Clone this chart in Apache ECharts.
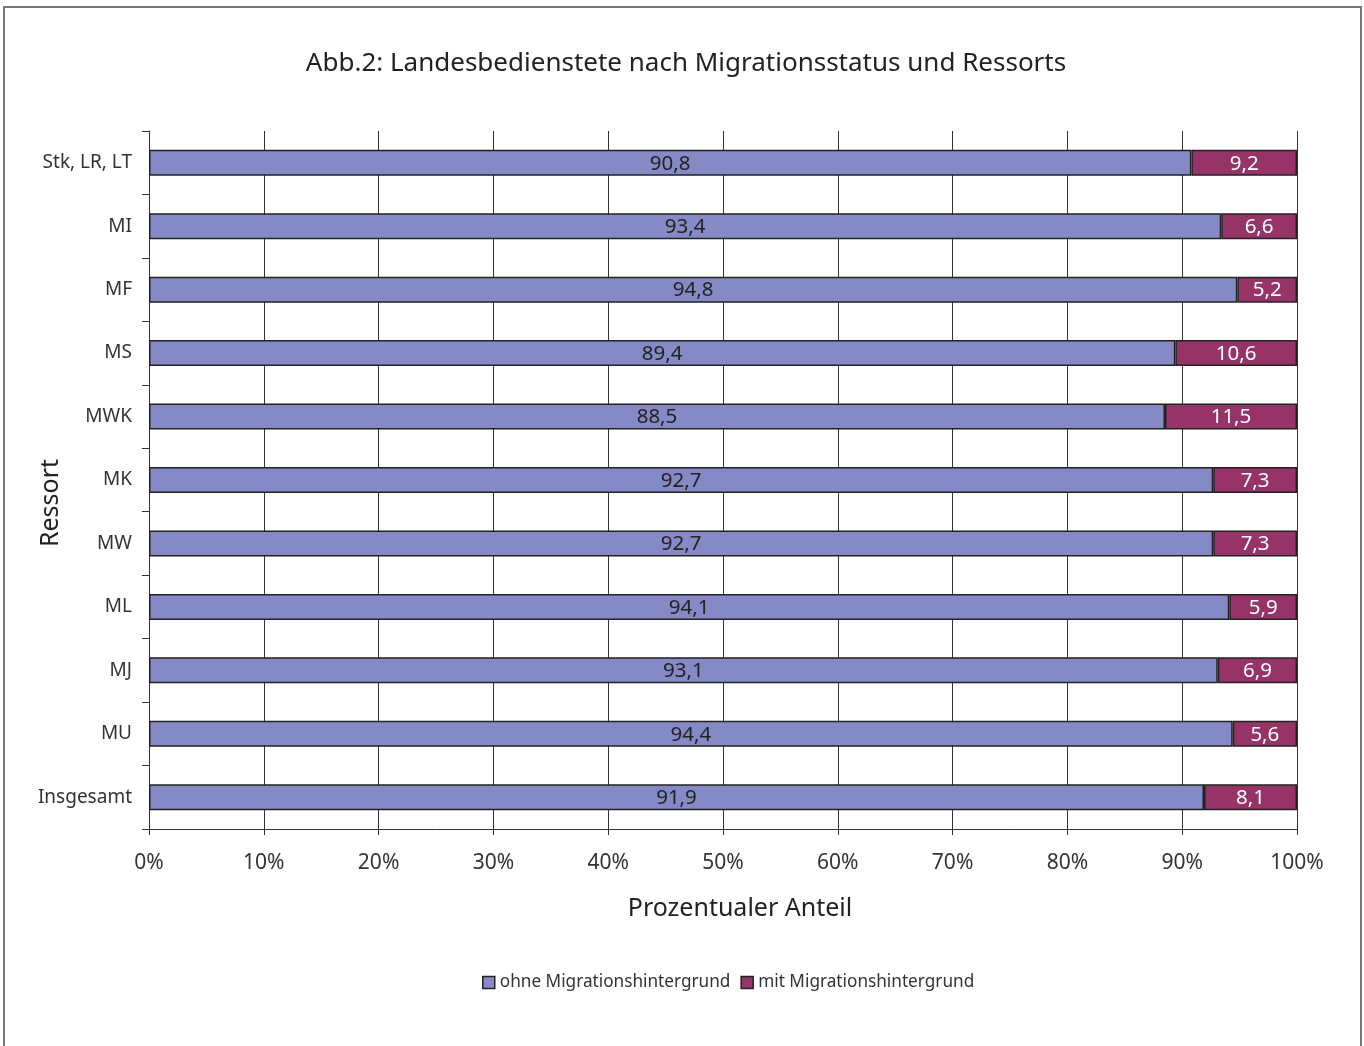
<!DOCTYPE html>
<html>
<head>
<meta charset="utf-8">
<script src="https://cdn.jsdelivr.net/npm/echarts@6/dist/echarts.min.js"></script>
<style>
html,body{margin:0;padding:0;background:#fff;}
#chart{width:1364px;height:1046px;}
</style>
</head>
<body>
<div id="chart"></div>
<script>
const categories = ['Stk, LR, LT','MI','MF','MS','MWK','MK','MW','ML','MJ','MU','Insgesamt'];
const ohneValues = [90.8,93.4,94.8,89.4,88.5,92.7,92.7,94.1,93.1,94.4,91.9];
const mitValues = [9.2,6.6,5.2,10.6,11.5,7.3,7.3,5.9,6.9,5.6,8.1];
const xTicks = [0,10,20,30,40,50,60,70,80,90,100];
const seriesNames = ['ohne Migrationshintergrund','mit Migrationshintergrund'];

const FONT = '"Noto Sans", "Open Sans", sans-serif';
const fmtDe = v => String(v).replace('.', ',');

const chart = echarts.init(document.getElementById('chart'));
chart.setOption({
  animation: false,
  textStyle: { fontFamily: FONT, color: '#222' },
  title: {
    text: 'Abb.2: Landesbedienstete nach Migrationsstatus und Ressorts',
    left: 681, top: 46, textAlign: 'center',
    textStyle: { fontFamily: FONT, fontSize: 26, fontWeight: 'normal', color: '#222' }
  },
  graphic: [{
    type: 'rect', shape: { x: 4, y: 7, width: 1357, height: 1100 },
    style: { fill: 'none', stroke: '#777', lineWidth: 2 }, silent: true
  }],
  legend: {
    top: 969, left: 477, itemWidth: 12, itemHeight: 12, itemGap: 10,
    icon: 'rect',
    itemStyle: { borderColor: '#222', borderWidth: 1.5 },
    textStyle: { fontFamily: FONT, fontSize: 17.2, color: '#333' },
    data: seriesNames
  },
  grid: { left: 149, right: 67, top: 131, bottom: 217, containLabel: false, outerBoundsMode: 'none' },
  xAxis: {
    type: 'value', min: 0, max: 100, interval: 10,
    name: 'Prozentualer Anteil', nameLocation: 'middle', nameGap: 67,
    nameTextStyle: { fontFamily: FONT, fontSize: 25, color: '#222', padding: [0,0,0,34] },
    axisLine: { show: true, lineStyle: { color: '#333', width: 1 } },
    axisTick: { show: true, length: 6, lineStyle: { color: '#333' } },
    axisLabel: { fontFamily: FONT, fontSize: 21, color: '#333', margin: 24,
      formatter: v => xTicks.includes(v) ? v + '%' : '' },
    splitLine: { show: true, lineStyle: { color: '#333', width: 1 } }
  },
  yAxis: {
    type: 'category', data: categories, inverse: true,
    name: 'Ressort', nameLocation: 'middle', nameGap: 86, nameRotate: 90,
    nameMoveOverlap: false,
    nameTextStyle: { fontFamily: FONT, fontSize: 25, color: '#222', padding: [0, 46, 0, 0] },
    axisLine: { show: true, lineStyle: { color: '#333', width: 1 } },
    axisTick: { show: true, length: 7, lineStyle: { color: '#333' } },
    axisLabel: { fontFamily: FONT, fontSize: 19, color: '#333', margin: 17 }
  },
  series: [
    {
      name: seriesNames[0], type: 'bar', stack: 'total', data: ohneValues,
      barWidth: 26,
      itemStyle: { color: '#8589C6', borderColor: '#222', borderWidth: 1.5 },
      label: { show: true, position: 'inside', fontFamily: FONT, fontSize: 20.5, color: '#222',
        offset: [0, 1], formatter: p => fmtDe(p.value) }
    },
    {
      name: seriesNames[1], type: 'bar', stack: 'total', data: mitValues,
      barWidth: 26,
      itemStyle: { color: '#963468', borderColor: '#222', borderWidth: 1.5 },
      label: { show: true, position: 'inside', fontFamily: FONT, fontSize: 20.5, color: '#fff',
        offset: [0, 1], formatter: p => fmtDe(p.value) }
    }
  ]
});
</script>
</body>
</html>
